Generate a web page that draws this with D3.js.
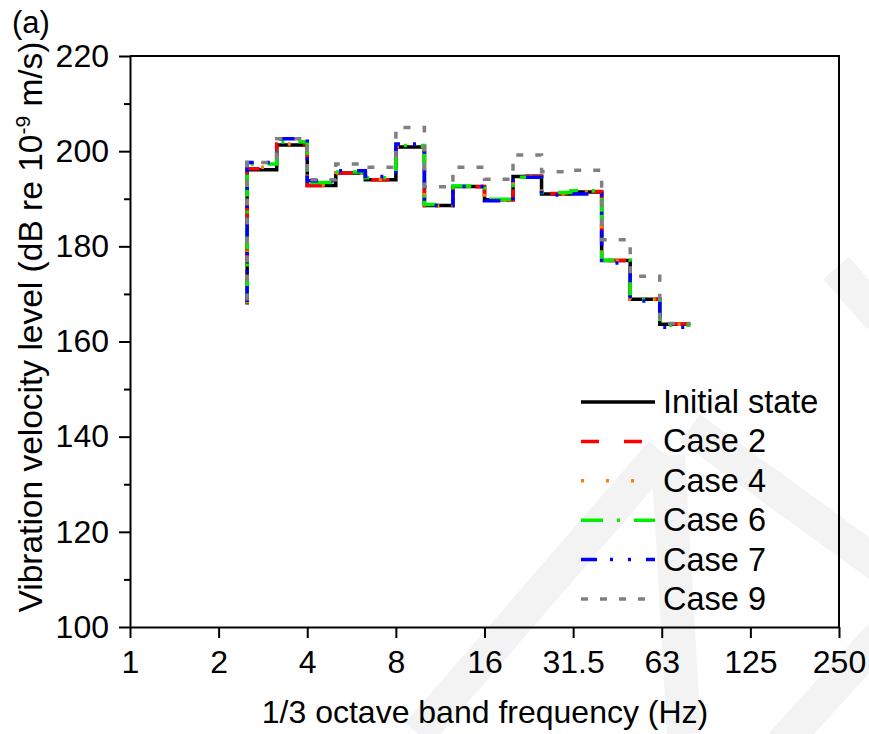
<!DOCTYPE html>
<html>
<head>
<meta charset="utf-8">
<script src="https://cdn.jsdelivr.net/npm/d3@7/dist/d3.min.js"></script>
<style>
  body { margin: 0; background: #fff; }
  svg { display: block; font-family: 'Liberation Sans', Arial, sans-serif; }
</style>
</head>
<body>
<svg id="chart" width="869" height="734"></svg>
<script>
// 1/3 octave band centre frequencies (Hz)
var freqs = [2.5, 3.15, 4, 5, 6.3, 8, 10, 12.5, 16, 20, 25, 31.5, 40, 50, 63, 80]

// levels, dB re 1e-9 m/s (first value = start of the first riser)
var initialState = [167.8, 196.1, 201.3, 192.8, 195.4, 194.0, 200.9, 188.6, 192.6, 189.8, 194.7, 191.0, 191.4, 177.0, 168.9, 163.6]
var case2 = [168.0, 196.3, 201.5, 192.8, 195.4, 194.0, 201.0, 188.6, 192.5, 189.8, 194.8, 191.1, 191.5, 177.0, 168.9, 163.7]
var case4 = [168.0, 196.6, 201.5, 192.9, 195.4, 194.1, 201.0, 188.5, 192.6, 189.7, 194.7, 191.0, 191.4, 176.9, 168.9, 163.6]
var case6 = [168.2, 197.3, 202.0, 193.4, 195.6, 194.4, 201.2, 188.8, 192.7, 189.9, 194.5, 191.3, 191.7, 177.1, 168.8, 163.4]
var case7 = [168.3, 197.6, 202.6, 193.8, 195.9, 194.7, 201.5, 188.6, 192.6, 189.6, 194.5, 190.8, 191.0, 176.5, 168.5, 163.0]
var case9 = [168.6, 197.6, 202.6, 194.0, 197.3, 196.6, 205.0, 192.5, 196.6, 194.1, 199.2, 195.7, 196.0, 181.4, 173.7, 163.8]

var seriesNames = ['Initial state', 'Case 2', 'Case 4', 'Case 6', 'Case 7', 'Case 9']
var seriesValues = [initialState, case2, case4, case6, case7, case9]

var xTickValues = [1, 2, 4, 8, 16, 32, 64, 128, 256]
var xTickLabels = ['1', '2', '4', '8', '16', '31.5', '63', '125', '250']
var yTicks = [100, 120, 140, 160, 180, 200, 220]
var yMinorTicks = [110, 130, 150, 170, 190, 210]

var colors = ['#000000', '#ff0000', '#ff8000', '#00ee00', '#0000ff', '#808080']
var dashes = ['none', '18 25', '3 22', '22 14 3 14', '16 13 3 15 3 15', '7 12']

var svg = d3.select('#chart')

var plotLeft = 130
var plotRight = 839
var plotTop = 56
var plotBottom = 627

// faint background watermark
var watermark = [
  [[418, 734], [662, 452]],
  [[668, 455], [684, 734]],
  [[690, 428], [880, 566]],
  [[836, 268], [880, 318]],
  [[782, 744], [880, 636]]
]
svg.append('g')
  .selectAll('line')
  .data(watermark)
  .enter()
  .append('line')
  .attr('x1', d => d[0][0])
  .attr('y1', d => d[0][1])
  .attr('x2', d => d[1][0])
  .attr('y2', d => d[1][1])
  .attr('stroke', '#f3f3f3')
  .attr('stroke-width', 34)

var x = d3.scaleLog().base(2).domain([1, 256]).range([plotLeft, plotRight])
var y = d3.scaleLinear().domain([100, 220]).range([plotBottom, plotTop])

// frame (top and right)
svg.append('path')
  .attr('d', `M${plotLeft},${plotTop}H${plotRight}V${plotBottom}`)
  .attr('fill', 'none')
  .attr('stroke', '#000')
  .attr('stroke-width', 2)

// axes
var xAxis = d3.axisBottom(x)
  .tickValues(xTickValues)
  .tickFormat((d, i) => xTickLabels[i])
  .tickSize(11)
  .tickSizeOuter(0)
  .tickPadding(12)

var yAxis = d3.axisLeft(y)
  .tickValues(yTicks)
  .tickFormat(d3.format('d'))
  .tickSize(11)
  .tickSizeOuter(0)
  .tickPadding(10)

var yMinor = d3.axisLeft(y)
  .tickValues(yMinorTicks)
  .tickFormat('')
  .tickSize(6)
  .tickSizeOuter(0)

svg.append('g')
  .attr('transform', `translate(0,${plotBottom})`)
  .call(xAxis)
  .call(g => g.selectAll('text').attr('font-size', 32).attr('fill', '#000'))

svg.append('g')
  .attr('transform', `translate(${plotLeft},0)`)
  .call(yAxis)
  .call(g => g.selectAll('text').attr('font-size', 32).attr('fill', '#000'))

svg.append('g')
  .attr('transform', `translate(${plotLeft},0)`)
  .call(yMinor)
  .call(g => g.select('.domain').remove())

svg.selectAll('.domain, .tick line')
  .attr('stroke', '#000')
  .attr('stroke-width', 2)

// step lines
var line = d3.line()
  .x(d => x(d[0]))
  .y(d => y(d[1]))
  .curve(d3.curveStepBefore)

svg.append('g')
  .selectAll('path')
  .data(seriesValues)
  .enter()
  .append('path')
  .attr('d', vals => line(vals.map((v, i) => [freqs[i], v])))
  .attr('fill', 'none')
  .attr('stroke', (d, i) => colors[i])
  .attr('stroke-width', 3.5)
  .attr('stroke-dasharray', (d, i) => dashes[i])

// legend
var legend = svg.append('g')
  .selectAll('g')
  .data(seriesNames)
  .enter()
  .append('g')
  .attr('transform', (d, i) => `translate(581,${402 + i * 39.4})`)

legend.append('line')
  .attr('x1', 0)
  .attr('x2', 74)
  .attr('stroke', (d, i) => colors[i])
  .attr('stroke-width', 3.5)
  .attr('stroke-dasharray', (d, i) => dashes[i])

legend.append('text')
  .attr('x', 82)
  .attr('y', 11)
  .attr('font-size', 32.5)
  .text(d => d)

// titles
svg.append('text')
  .attr('x', 485)
  .attr('y', 723)
  .attr('text-anchor', 'middle')
  .attr('font-size', 32)
  .text('1/3 octave band frequency (Hz)')

var yTitle = svg.append('text')
  .attr('transform', 'translate(42,327) rotate(-90)')
  .attr('text-anchor', 'middle')
  .attr('font-size', 33.5)
yTitle.append('tspan').text('Vibration velocity level (dB re 10')
yTitle.append('tspan').attr('font-size', 21).attr('dy', -12).text('-9')
yTitle.append('tspan').attr('dy', 12).text(' m/s)')

svg.append('text')
  .attr('x', 12)
  .attr('y', 33)
  .attr('font-size', 31)
  .text('(a)')
</script>
</body>
</html>
